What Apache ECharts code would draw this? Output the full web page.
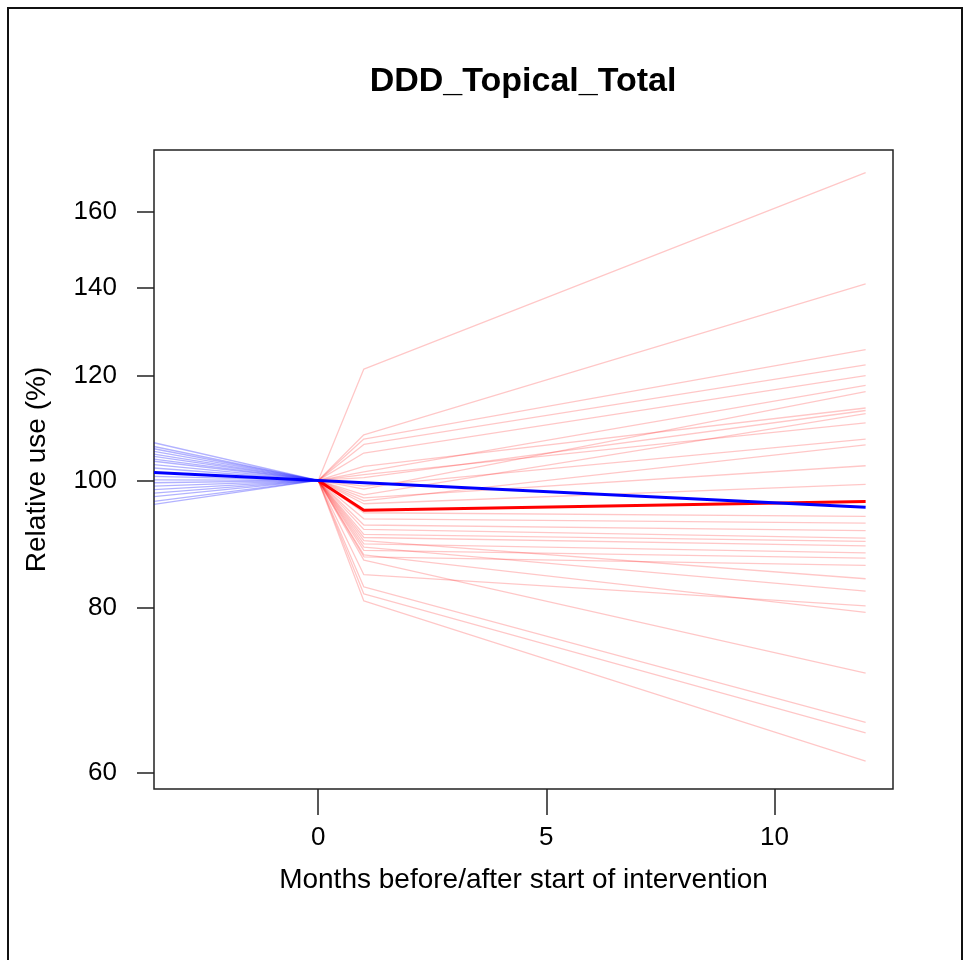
<!DOCTYPE html>
<html>
<head>
<meta charset="utf-8">
<title>DDD_Topical_Total</title>
<script src="https://cdn.jsdelivr.net/npm/echarts@6/dist/echarts.min.js"></script>
<style>
html, body { margin: 0; padding: 0; background: #fff; }
#chart { width: 969px; height: 960px; }
</style>
</head>
<body>
<div id="chart"></div>
<script>
// months where the intervention lines have points
var redMonths = [0, 1, 12];
// relative use (%) of each unit at month 1 and month 12 (month 0 = 100)
var redAt1 = [121.5, 108.3, 107.5, 106.5, 104.9, 101.5, 98.5, 102.5, 100.5, 97.5, 101, 99, 96.5, 97, 96,
  94.5, 93.5, 92.5, 91.8, 91, 90.5, 89.5, 88.5, 87.5, 90, 89, 84.8, 87.8, 87.0, 83.0, 82.0, 81.0];
var redAt12 = [171.3, 141.0, 125.7, 122.4, 120.1, 118.1, 116.8, 113.5, 113.0, 112.4, 110.6, 107.5, 106.4, 102.6, 99.3,
  93.9, 92.8, 91.6, 90.4, 89.9, 89.2, 88.1, 87.3, 86.2, 84.2, 82.4, 80.3, 79.4, 71.4, 65.5, 64.3, 61.2];

// pre-intervention lines, from the left edge to month 0
var blueMonths = [-3.6, 0];
var blueStart = [106.8, 106.1, 105.7, 105.2, 104.7, 104.3, 103.8, 103.4, 102.8, 102.2,
  100.7, 100.1, 99.6, 99.0, 98.4, 97.8, 97.2, 96.4, 95.9];

// mean lines
var blueFitX = [-3.6, 0, 12];
var blueFitY = [101.4, 100, 95.4];
var redFitX = [0, 1, 12];
var redFitY = [100, 94.9, 96.4];

var xTicks = [0, 5, 10];
var yTicks = [60, 80, 100, 120, 140, 160];

var font = "'Liberation Sans', Arial, sans-serif";

function pairs(xs, ys) {
  return xs.map(function (x, i) { return [x, ys[i]]; });
}

var series = [];
redAt1.forEach(function (v, i) {
  series.push({
    type: "line",
    data: pairs(redMonths, [100, v, redAt12[i]]),
    symbol: "none",
    silent: true,
    lineStyle: { color: "rgba(255,0,0,0.22)", width: 1.3 }
  });
});
blueStart.forEach(function (v) {
  series.push({
    type: "line",
    data: pairs(blueMonths, [v, 100]),
    symbol: "none",
    silent: true,
    lineStyle: { color: "rgba(0,0,255,0.3)", width: 1.4 }
  });
});
series.push({
  type: "line",
  data: pairs(redFitX, redFitY),
  symbol: "none",
  lineStyle: { color: "#ff0000", width: 3 }
});
series.push({
  type: "line",
  data: pairs(blueFitX, blueFitY),
  symbol: "none",
  lineStyle: { color: "#0000ff", width: 3 }
});

var chart = echarts.init(document.getElementById("chart"));
chart.setOption({
  animation: false,
  textStyle: { fontFamily: font },
  grid: {
    left: 154, right: 76, top: 150, bottom: 171,
    show: true, borderColor: "#222", borderWidth: 1.5
  },
  graphic: [
    {
      type: "rect",
      shape: { x: 8, y: 8, width: 954, height: 980 },
      style: { fill: "none", stroke: "#111", lineWidth: 2 }
    },
    {
      type: "text",
      x: 523, y: 82,
      style: {
        text: "DDD_Topical_Total", fontSize: 34, fontWeight: "bold",
        fontFamily: font, fill: "#000", align: "center", verticalAlign: "middle"
      }
    }
  ],
  xAxis: {
    type: "value",
    min: -3.6,
    max: 12.6,
    name: "Months before/after start of intervention",
    nameLocation: "middle",
    nameGap: 77,
    nameTextStyle: { fontSize: 28, color: "#000", fontFamily: font },
    axisLine: { show: false, onZero: false },
    axisTick: { show: true, customValues: xTicks, length: 26, lineStyle: { color: "#222", width: 1.5 } },
    axisLabel: { customValues: xTicks, margin: 36, fontSize: 26, color: "#000", fontFamily: font },
    splitLine: { show: false }
  },
  yAxis: {
    type: "log",
    min: 58.3,
    max: 178.2,
    name: "Relative use (%)",
    nameLocation: "middle",
    nameGap: 103,
    nameTextStyle: { fontSize: 28, color: "#000", fontFamily: font },
    axisLine: { show: false, onZero: false },
    axisTick: { show: true, customValues: yTicks, length: 17, lineStyle: { color: "#222", width: 1.5 } },
    axisLabel: {
      customValues: yTicks, margin: 37, fontSize: 26, color: "#000", fontFamily: font,
      formatter: function (v) { return String(Math.round(v)); }
    },
    splitLine: { show: false }
  },
  series: series
});
</script>
</body>
</html>
